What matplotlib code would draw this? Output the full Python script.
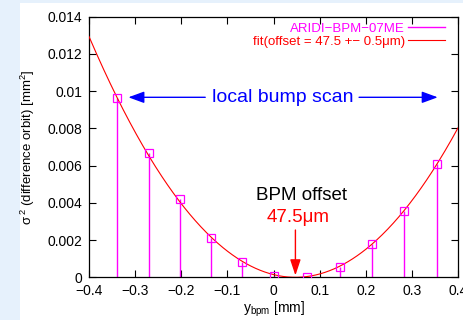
import numpy as np
import matplotlib
matplotlib.use("Agg")
import matplotlib.pyplot as plt
from matplotlib.lines import Line2D
from matplotlib.ticker import FuncFormatter
from matplotlib.patches import Rectangle

plt.rcParams["font.family"] = ["Liberation Sans", "DejaVu Sans"]
plt.rcParams["mathtext.fontset"] = "custom"
plt.rcParams["mathtext.rm"] = "Liberation Sans"
plt.rcParams["mathtext.it"] = "Liberation Sans"
plt.rcParams["mathtext.sf"] = "Liberation Sans"

# BPM scan measurements: bump position vs. variance of difference orbit
y_bpm = [-0.3385, -0.271, -0.2036, -0.1355, -0.0674, 0.0015, 0.0717, 0.1442, 0.2137, 0.2833, 0.355]
sigma2 = [0.00962, 0.00666, 0.00419, 0.00211, 0.00082, 0.00009, 0.00003, 0.00057, 0.00177, 0.00358, 0.00607]

# parabolic fit parameters
fit_offset = 0.0475      # mm
fit_curv = 0.0646
fit_floor = 0.0

series_label = "ARIDI\u2212BPM\u221207ME"
fit_label = "fit(offset = 47.5 +\u2212 0.5\u03bcm)"

x_ticks = [-0.4, -0.3, -0.2, -0.1, 0.0, 0.1, 0.2, 0.3, 0.4]
y_ticks = [0, 0.002, 0.004, 0.006, 0.008, 0.01, 0.012, 0.014]

MAG = "#ff00ff"
RED = "#ff0000"
BLUE = "#0000ff"

fig = plt.figure(figsize=(4.63, 3.20), dpi=100)
fig.patch.set_facecolor("#e6f1fc")
# white panel behind the plot
fig.patches.append(Rectangle((20 / 463, 0), 1 - 20 / 463, 1 - 3 / 320,
                             transform=fig.transFigure, facecolor="white",
                             edgecolor="none", zorder=-10))

ax = fig.add_axes([89 / 463, (320 - 277.3) / 320, (458 - 89) / 463, (277.3 - 16.7) / 320])
ax.set_facecolor("white")

# fit curve
xf = np.linspace(-0.4, 0.4, 400)
yf = fit_curv * (xf - fit_offset) ** 2 + fit_floor
ax.plot(xf, yf, color=RED, lw=0.8, zorder=3)

# impulses with open square markers
ax.vlines(y_bpm, 0, sigma2, color=MAG, lw=1.0, zorder=2)
ax.plot(y_bpm, sigma2, ls="none", marker="s", ms=5.5, mfc="none", mec=MAG, mew=0.9, zorder=4)

ax.set_xlim(-0.4, 0.4)
ax.set_ylim(0, 0.014)
ax.set_xticks(x_ticks)
ax.set_yticks(y_ticks)
ax.xaxis.set_major_formatter(FuncFormatter(lambda v, p: ("%g" % round(v, 4)).replace("-", "\u2212")))
ax.yaxis.set_major_formatter(FuncFormatter(lambda v, p: "%g" % round(v, 5)))
ax.tick_params(direction="in", length=5, width=0.8, top=True, right=True,
               labelsize=10, pad=5, colors="black")
for s in ax.spines.values():
    s.set_linewidth(0.9)

ax.set_xlabel(r"y$_{\rm bpm}$ [mm]", fontsize=10, labelpad=1)
ax.set_ylabel(r"$\sigma^{\,2}$ (difference orbit) [mm$^{2}$]", fontsize=9.5, labelpad=7)

# scan range annotation
ax.text(0.0196, 0.00967, "local bump scan", color=BLUE, fontsize=14,
        ha="center", va="center")
ax.annotate("", xy=(-0.3146, 0.00967), xytext=(-0.148, 0.00967),
            arrowprops=dict(arrowstyle="-|>,head_length=0.6,head_width=0.22", color=BLUE,
                            lw=1.0, mutation_scale=16, shrinkA=0, shrinkB=0))
ax.annotate("", xy=(0.356, 0.00967), xytext=(0.1855, 0.00967),
            arrowprops=dict(arrowstyle="-|>,head_length=0.6,head_width=0.22", color=BLUE,
                            lw=1.0, mutation_scale=16, shrinkA=0, shrinkB=0))

# offset annotation
ax.text(0.061, 0.00442, "BPM offset", color="black", fontsize=13.5, ha="center", va="center")
ax.text(0.054, 0.00322, "47.5\u03bcm", color=RED, fontsize=13.5, ha="center", va="center")
ax.annotate("", xy=(fit_offset, 0.0001), xytext=(fit_offset, 0.00254),
            arrowprops=dict(arrowstyle="-|>,head_length=0.6,head_width=0.2", color=RED,
                            lw=1.0, mutation_scale=16, shrinkA=0, shrinkB=0))

handles = [Line2D([], [], color=MAG, lw=1.0), Line2D([], [], color=RED, lw=0.8)]
leg = ax.legend(handles, [series_label, fit_label], loc="upper right",
                bbox_to_anchor=(1 - 13 / 369, 1 - 6 / 260.6), borderaxespad=0,
                frameon=False, markerfirst=False, fontsize=9.5, handlelength=2.8,
                handletextpad=0.25, labelspacing=0.05, borderpad=0,
                labelcolor="linecolor")

fig.savefig("out.png", dpi=100, facecolor=fig.get_facecolor())
